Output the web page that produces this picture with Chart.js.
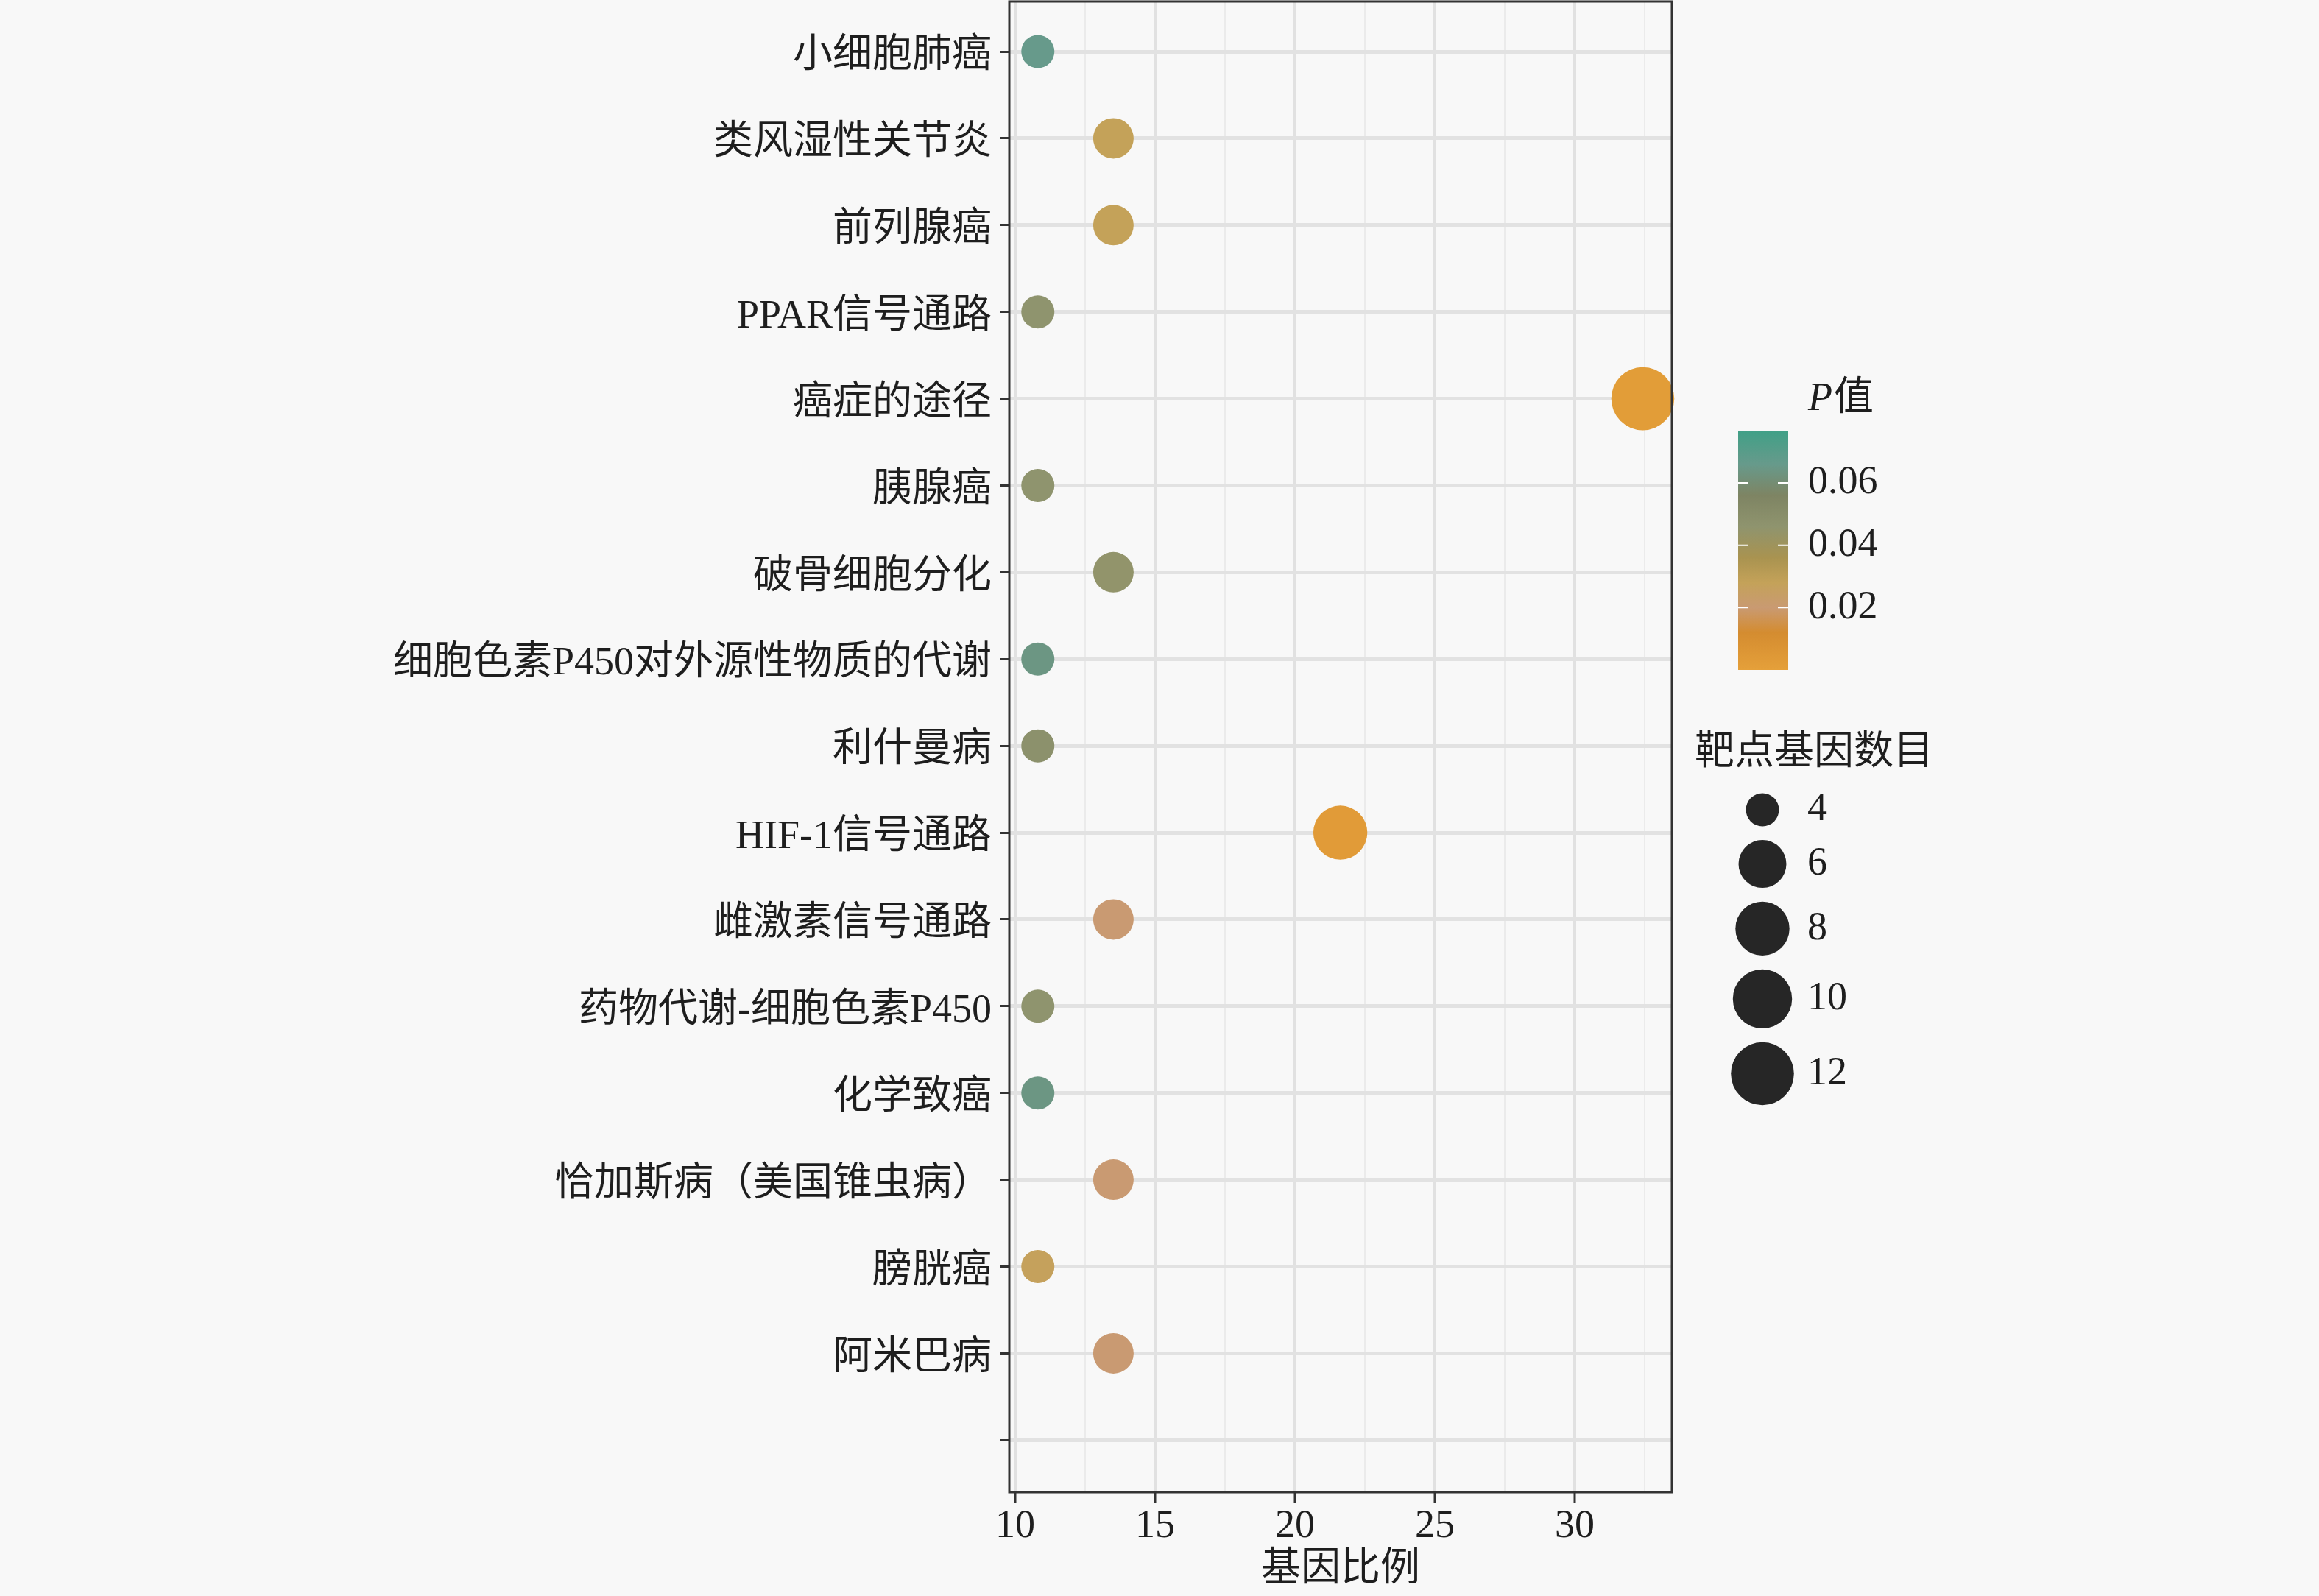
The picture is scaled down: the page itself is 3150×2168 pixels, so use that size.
<!DOCTYPE html>
<html>
<head>
<meta charset="utf-8">
<script src="https://cdn.jsdelivr.net/npm/chart.js@4.4.0/dist/chart.umd.min.js"></script>
<style>
  html, body { margin: 0; padding: 0; background: #f8f8f8; }
  canvas { display: block; }
</style>
</head>
<body>
<canvas id="dotChart" width="3150" height="2168"></canvas>
<script>
// KEGG enrichment dot plot

const pathways = [
    '小细胞肺癌', '类风湿性关节炎', '前列腺癌', 'PPAR信号通路', '癌症的途径',
    '胰腺癌', '破骨细胞分化', '细胞色素P450对外源性物质的代谢', '利什曼病',
    'HIF-1信号通路', '雌激素信号通路', '药物代谢-细胞色素P450', '化学致癌',
    '恰加斯病（美国锥虫病）', '膀胱癌', '阿米巴病', ''
];
const geneRatio = [10.81, 13.51, 13.51, 10.81, 32.43, 10.81, 13.51, 10.81, 10.81,
                   21.62, 13.51, 10.81, 10.81, 13.51, 10.81, 13.51];
const geneCount = [4, 5, 5, 4, 12, 4, 5, 4, 4, 8, 5, 4, 4, 5, 4, 5];
const pValues = [0.066, 0.028, 0.028, 0.046, 0.002, 0.046, 0.045, 0.064, 0.048,
                 0.003, 0.020, 0.046, 0.064, 0.020, 0.027, 0.020];
const xTicks = [10, 15, 20, 25, 30];
const colorTicks = [0.02, 0.04, 0.06];
const sizeBreaks = [4, 6, 8, 10, 12];

const FONT = '"Liberation Serif", "Noto Sans CJK SC", serif';
const TEXT = '#1e1e1e';
const P_MAX = 0.0768;

// colour scale of the P value bar (p, colour)
const COLOR_STOPS = [
    [0.0768, '#40a087'], [0.066, '#679a8b'], [0.056, '#7e8463'], [0.046, '#8f946e'],
    [0.036, '#a99350'], [0.028, '#c4a259'], [0.020, '#c99a72'], [0.012, '#d48c30'],
    [0.000, '#e5a03a']
];
const SIZE_RADII = [22.5, 32.5, 36.7, 40.2, 42.8];

const hexToRgb = h => [1, 3, 5].map(i => parseInt(h.substr(i, 2), 16));

function colorFor(p) {
    for (let i = 0; i < COLOR_STOPS.length - 1; i++) {
        const [p0, c0] = COLOR_STOPS[i];
        const [p1, c1] = COLOR_STOPS[i + 1];
        if (p <= p0 && p >= p1) {
            const t = (p0 - p) / (p0 - p1);
            const a = hexToRgb(c0), b = hexToRgb(c1);
            const m = a.map((v, k) => Math.round(v + (b[k] - v) * t));
            return `rgb(${m[0]}, ${m[1]}, ${m[2]})`;
        }
    }
    return COLOR_STOPS[COLOR_STOPS.length - 1][1];
}

function radiusFor(n) {
    if (n <= sizeBreaks[0]) return SIZE_RADII[0];
    for (let i = 0; i < sizeBreaks.length - 1; i++) {
        if (n <= sizeBreaks[i + 1]) {
            const t = (n - sizeBreaks[i]) / (sizeBreaks[i + 1] - sizeBreaks[i]);
            return SIZE_RADII[i] + (SIZE_RADII[i + 1] - SIZE_RADII[i]) * t;
        }
    }
    return SIZE_RADII[SIZE_RADII.length - 1];
}

const points = geneRatio.map((v, i) => ({ x: v, y: i, count: geneCount[i], p: pValues[i] }));

// panel frame drawn round the plotting area
const framePlugin = {
    id: 'panelFrame',
    afterDatasetsDraw(chart) {
        const { ctx, chartArea: a } = chart;
        ctx.save();
        ctx.strokeStyle = '#333333';
        ctx.lineWidth = 3;
        ctx.strokeRect(a.left, a.top, a.right - a.left, a.bottom - a.top);
        ctx.restore();
    }
};

// colour bar + size legend on the right
const legendPlugin = {
    id: 'sideLegend',
    afterDraw(chart) {
        const ctx = chart.ctx;
        ctx.save();
        ctx.fillStyle = TEXT;
        ctx.textBaseline = 'middle';
        ctx.textAlign = 'left';

        ctx.font = `italic 54px ${FONT}`;
        ctx.fillText('P', 2456, 543);
        const pw = ctx.measureText('P').width;
        ctx.font = `54px ${FONT}`;
        ctx.fillText('值', 2456 + pw + 2, 543);

        const barX = 2361, barW = 68, barTop = 585, barBottom = 910;
        const grad = ctx.createLinearGradient(0, barTop, 0, barBottom);
        COLOR_STOPS.forEach(([p, c]) => grad.addColorStop(1 - p / P_MAX, c));
        ctx.fillStyle = grad;
        ctx.fillRect(barX, barTop, barW, barBottom - barTop);

        ctx.strokeStyle = '#ffffff';
        ctx.lineWidth = 2;
        ctx.fillStyle = TEXT;
        colorTicks.forEach(p => {
            const y = barBottom - p / P_MAX * (barBottom - barTop);
            ctx.beginPath();
            ctx.moveTo(barX, y); ctx.lineTo(barX + 14, y);
            ctx.moveTo(barX + barW - 14, y); ctx.lineTo(barX + barW, y);
            ctx.stroke();
            ctx.fillText(p.toFixed(2), 2456, y);
        });

        ctx.fillText('靶点基因数目', 2302, 1024);
        let y = 1100;
        sizeBreaks.forEach((n, i) => {
            const r = radiusFor(n);
            if (i > 0) y += radiusFor(sizeBreaks[i - 1]) + r + 18.6;
            ctx.fillStyle = '#262626';
            ctx.beginPath();
            ctx.arc(2394, y, r, 0, Math.PI * 2);
            ctx.fill();
            ctx.fillStyle = TEXT;
            ctx.fillText(String(n), 2455, y);
        });
        ctx.restore();
    }
};

new Chart(document.getElementById('dotChart'), {
    type: 'scatter',
    data: {
        datasets: [{
            data: points,
            clip: false,
            pointRadius: ctx => radiusFor(ctx.raw.count),
            pointHoverRadius: ctx => radiusFor(ctx.raw.count),
            backgroundColor: ctx => colorFor(ctx.raw.p),
            borderWidth: 0
        }]
    },
    options: {
        responsive: false,
        devicePixelRatio: 1,
        animation: false,
        events: [],
        layout: { autoPadding: false, padding: { left: 0, right: 879, top: 2, bottom: 0 } },
        plugins: { legend: { display: false }, tooltip: { enabled: false } },
        scales: {
            x: {
                type: 'linear',
                min: 9.79,
                max: 33.47,
                afterBuildTicks: axis => {
                    axis.ticks = xTicks.flatMap(v => [{ value: v }, { value: v + 2.5 }]);
                },
                afterFit: scale => {
                    scale.height = 141;
                    scale.paddingLeft = 0;
                    scale.paddingRight = 0;
                },
                border: { display: false },
                grid: {
                    color: ctx => xTicks.includes(ctx.tick.value) ? '#e1e1e1' : '#ebebeb',
                    lineWidth: ctx => xTicks.includes(ctx.tick.value) ? 4 : 2,
                    tickColor: ctx => xTicks.includes(ctx.tick.value) ? '#333333' : 'rgba(0,0,0,0)',
                    tickWidth: 3,
                    tickLength: 14
                },
                ticks: {
                    autoSkip: false,
                    maxRotation: 0,
                    padding: 0,
                    color: TEXT,
                    font: { family: FONT, size: 54 },
                    callback: v => xTicks.includes(v) ? String(v) : ''
                },
                title: {
                    display: true,
                    text: '基因比例',
                    color: TEXT,
                    font: { family: FONT, size: 54 },
                    padding: { top: 0, bottom: 3 }
                }
            },
            y: {
                type: 'linear',
                reverse: true,
                min: -0.577,
                max: 16.6,
                afterBuildTicks: axis => {
                    axis.ticks = pathways.map((_, i) => ({ value: i }));
                },
                afterFit: scale => {
                    scale.width = 1371;
                    scale.paddingTop = 0;
                    scale.paddingBottom = 0;
                },
                border: { display: false },
                grid: {
                    color: '#e2e2e2',
                    lineWidth: 5,
                    tickColor: '#333333',
                    tickWidth: 3,
                    tickLength: 12
                },
                ticks: {
                    autoSkip: false,
                    padding: 12,
                    labelOffset: 7,
                    color: TEXT,
                    font: { family: FONT, size: 54 },
                    callback: v => pathways[v]
                }
            }
        }
    },
    plugins: [framePlugin, legendPlugin]
});
</script>
</body>
</html>
